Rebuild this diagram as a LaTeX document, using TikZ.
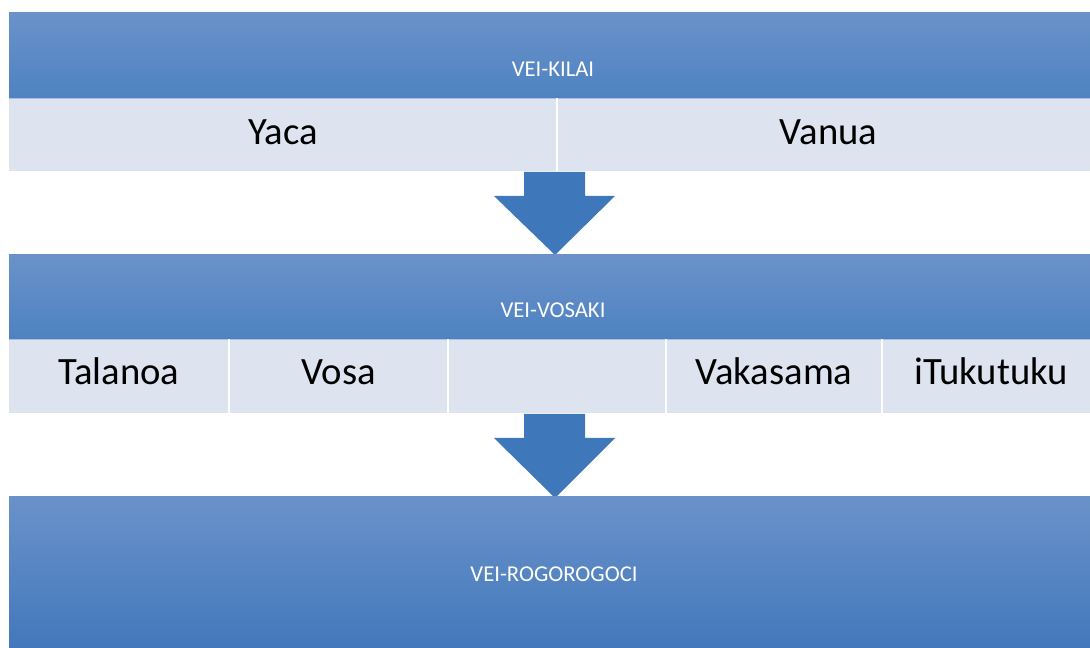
\documentclass[tikz,border=0pt]{standalone}
\usepackage{fontspec}
\setmainfont{Carlito}
\definecolor{bandtop}{HTML}{6A92C9}
\definecolor{bandbot}{HTML}{4E82C2}
\definecolor{bandlow}{HTML}{3F76BB}
\definecolor{rowfill}{HTML}{DEE3F0}
\definecolor{rowedge}{HTML}{A9C0E2}
\definecolor{arrowblue}{HTML}{3F77BB}
\begin{document}
\begin{tikzpicture}[x=0.75pt,y=-0.75pt,line join=miter]
  \tikzset{
    band/.style={top color=bandtop,bottom color=bandbot},
    bandtext/.style={text=white,font=\fontsize{17}{20}\selectfont,inner sep=0pt,anchor=base},
    celltext/.style={text=black,font=\fontsize{29}{34}\selectfont,inner sep=0pt,anchor=base},
    divider/.style={draw=white,line width=1.5pt},
    blockarrow/.style={fill=arrowblue}
  }
  \useasboundingbox (0,0) rectangle (1090,648);
  \clip (0,0) rectangle (1090,648);

  % obere Stufe
  \shade[band] (9,13) rectangle (1100,98);
  \fill[rowfill] (9,98) rectangle (1100,172);
  \draw[rowedge,line width=0.8pt] (9,98.5) -- (1100,98.5);
  \draw[white,line width=1pt] (9,172) -- (1100,172);
  \draw[divider] (557,98) -- (557,172);
  \node[bandtext] (kilai) at (553,77) {VEI-KILAI};
  \node[celltext] (yaca) at (283,145) {Yaca};
  \node[celltext] (vanua) at (828.5,145) {Vanua};

  % Pfeil 1
  \fill[blockarrow] (524,172) -- (585,172) -- (585,196) -- (615,196)
    -- (555,255) -- (494,196) -- (524,196) -- cycle;

  % mittlere Stufe
  \shade[band] (9,255) rectangle (1100,339);
  \fill[rowfill] (9,339) rectangle (1100,414);
  \draw[rowedge,line width=0.8pt] (9,339.5) -- (1100,339.5);
  \draw[white,line width=1pt] (9,414) -- (1100,414);
  \draw[divider] (229,339) -- (229,414);
  \draw[divider] (448,339) -- (448,414);
  \draw[divider] (666,339) -- (666,414);
  \draw[divider] (882,339) -- (882,414);
  \node[bandtext] (vosaki) at (553,318) {VEI-VOSAKI};
  \node[celltext] (talanoa) at (119,385) {Talanoa};
  \node[celltext] (vosa) at (338.5,385) {Vosa};
  \node[celltext] (vakasama) at (774,385) {Vakasama};
  \node[celltext] (itukutuku) at (991,385) {iTukutuku};

  % Pfeil 2
  \fill[blockarrow] (524,414) -- (585,414) -- (585,438) -- (615,438)
    -- (555,498) -- (494,438) -- (524,438) -- cycle;

  % untere Stufe
  \shade[top color=bandtop,bottom color=bandlow] (9,497) rectangle (1100,660);
  \node[bandtext] (rogo) at (554,582) {VEI-ROGOROGOCI};
\end{tikzpicture}
\end{document}
